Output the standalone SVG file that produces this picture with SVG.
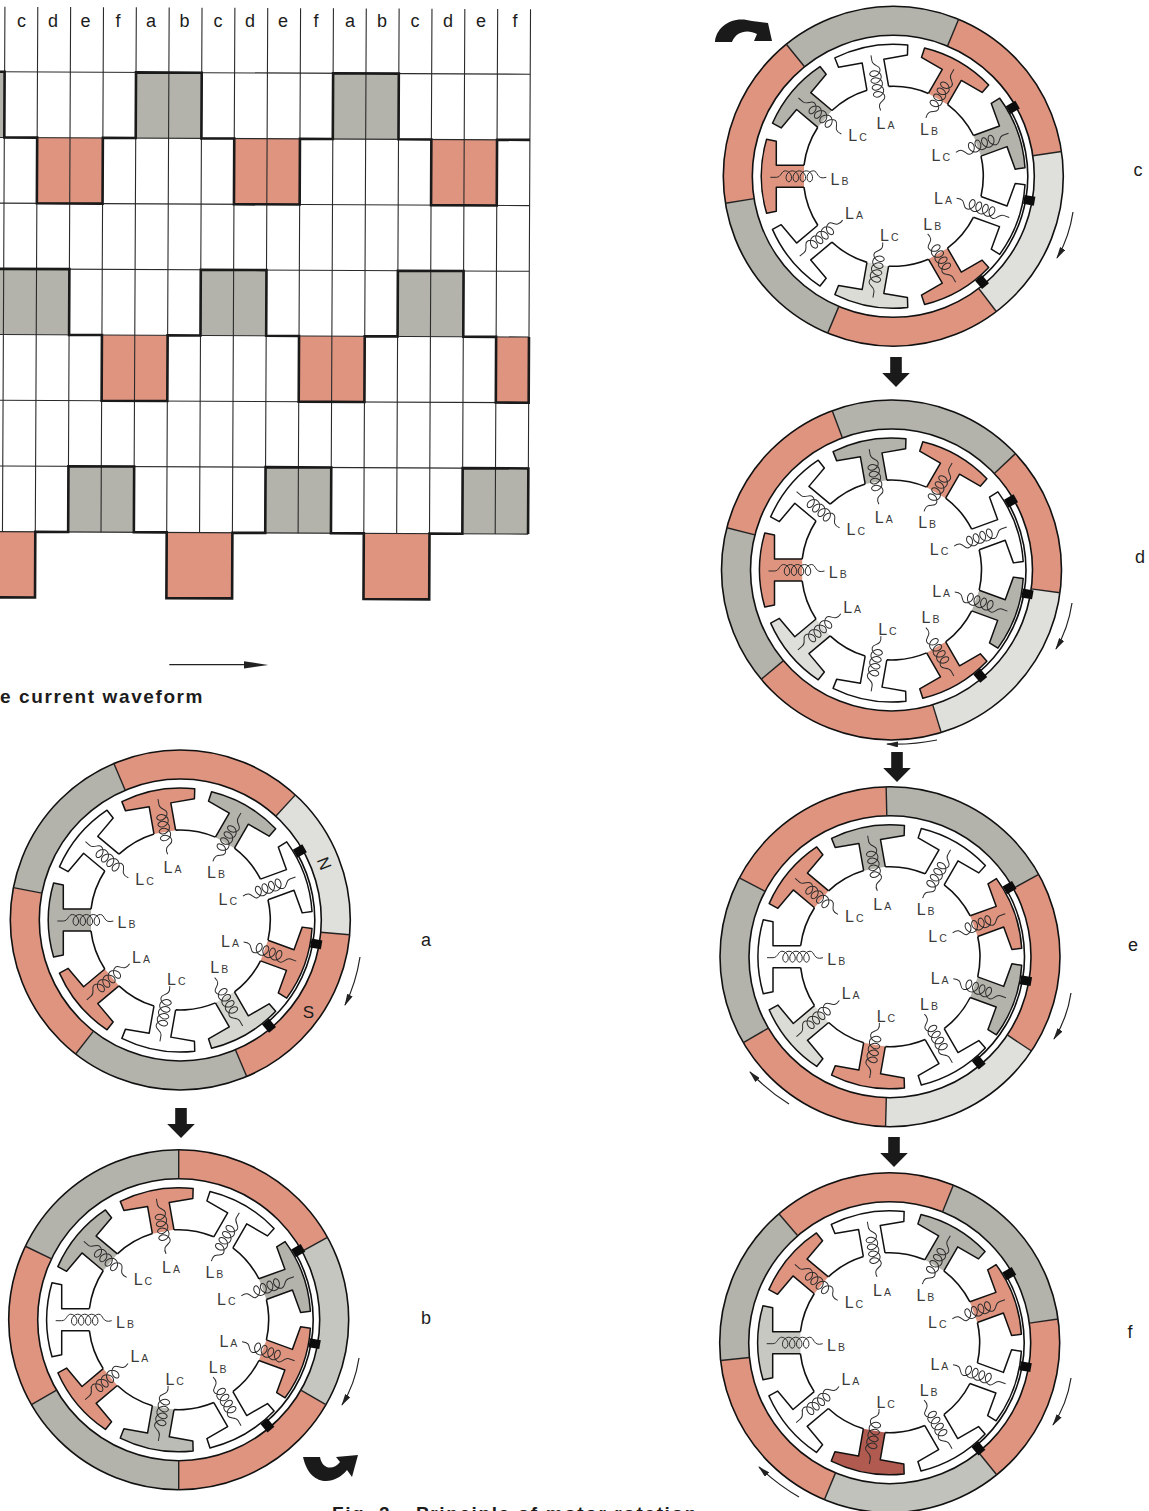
<svg xmlns="http://www.w3.org/2000/svg" xmlns:xlink="http://www.w3.org/1999/xlink" width="1149" height="1511" viewBox="0 0 1149 1511">
<style>
text{font-family:"Liberation Sans",Arial,sans-serif;fill:#1c1c1c}
.hd{font-size:18px;text-anchor:middle}
.cap{font-size:19px;font-weight:bold;letter-spacing:1.6px}
.L{font-size:16px;fill:#3a3a3a}
.L tspan{font-size:10.5px}
.thin{fill:none;stroke:#2a2a2a;stroke-width:1.1}
.tr{fill:none;stroke:#1a1a1a;stroke-width:2.6;stroke-linejoin:miter}
.g{fill:#b3b3ac}.r{fill:#df9480}
.seg{fill:none;stroke-width:29}
.ol{fill:none;stroke:#111;stroke-width:1.6}
.tooth{stroke:#111;stroke-width:1.5;stroke-linejoin:round}
.coil{fill:none;stroke:#2c2c2c;stroke-width:1}
.rot{fill:none;stroke:#222;stroke-width:1.2;marker-end:url(#ah)}
.fat{fill:#1a1a1a}
</style>
<defs>
<marker id="ah" viewBox="0 0 12 6" refX="11" refY="3" markerWidth="12" markerHeight="6" markerUnits="userSpaceOnUse" orient="auto"><path d="M0,0L12,3L0,6z" fill="#222"/></marker>
<path id="coil" class="coil" d="M-1,-123L-1,-117C-1,-112 5.5,-112 5.5,-108c0,2.89 -2.62,5.57 -5.5,6.15c-2.88,.58 -5.5,-.93 -5.5,-2.65c0,-1.72 2.62,-3.23 5.5,-2.65c2.88,.58 5.5,3.26 5.5,6.15c0,2.89 -2.62,5.57 -5.5,6.15c-2.88,.58 -5.5,-.93 -5.5,-2.65c0,-1.72 2.62,-3.23 5.5,-2.65c2.88,.58 5.5,3.26 5.5,6.15c0,2.89 -2.62,5.57 -5.5,6.15c-2.88,.58 -5.5,-.93 -5.5,-2.65c0,-1.72 2.62,-3.23 5.5,-2.65c2.88,.58 5.5,3.26 5.5,6.15c0,2.89 -2.62,5.57 -5.5,6.15c-2.88,.58 -5.5,-.93 -5.5,-2.65c0,-1.72 2.62,-3.23 5.5,-2.65c2.88,.58 5.5,3.26 5.5,6.15C5.5,-75 -4,-77 -1,-67"/>
<g id="tooth"><path class="tooth" d="M-11,-89.3V-117H-35L-37,-126.7A132,132 0 0 1 37,-126.7L35,-117H11V-89.3"/><use href="#coil" xlink:href="#coil"/></g>
<g id="stator">
<circle class="ol" r="90" pathLength="360" stroke-dasharray="26 14" transform="rotate(-93)"/>
<circle class="ol" r="134.5" pathLength="360" stroke-dasharray="80 280" transform="rotate(-30)"/>
<g fill="#0c0c0c"><rect x="-4.5" y="-143.5" width="9" height="11" transform="rotate(60)"/><rect x="-4.5" y="-143.5" width="9" height="11" transform="rotate(100)"/><rect x="-4.5" y="-143.5" width="9" height="11" transform="rotate(140)"/></g>
</g>
<path id="seam" d="M0,-141V-170" stroke="#222" stroke-width="1.4"/>
<path id="down" class="fat" d="M-5.8,-30H5.8V-14H13.8L0,0L-13.8,-14H-5.8z"/>
</defs>
<rect width="1149" height="1511" fill="#fff"/>

<g id="waveform">
<g transform="rotate(.27 270 300)">
<rect class="g" x="-5" y="73" width="8.55" height="65.7"/><rect class="g" x="134.95" y="73" width="65.7" height="65.7"/><rect class="g" x="332.05" y="73" width="65.7" height="65.7"/>
<rect class="r" x="36.4" y="138.7" width="65.7" height="65.7"/><rect class="r" x="233.5" y="138.7" width="65.7" height="65.7"/><rect class="r" x="430.6" y="138.7" width="65.7" height="65.7"/>
<rect class="g" x="-5" y="270.1" width="74.25" height="65.7"/><rect class="g" x="200.65" y="270.1" width="65.7" height="65.7"/><rect class="g" x="397.75" y="270.1" width="65.7" height="65.7"/>
<rect class="r" x="102.1" y="335.8" width="65.7" height="65.7"/><rect class="r" x="299.2" y="335.8" width="65.7" height="65.7"/><rect class="r" x="496.3" y="335.8" width="32.85" height="65.7"/>
<rect class="g" x="69.25" y="467.2" width="65.7" height="65.7"/><rect class="g" x="266.35" y="467.2" width="65.7" height="65.7"/><rect class="g" x="463.45" y="467.2" width="65.7" height="65.7"/>
<rect class="r" x="-5" y="532.9" width="41.4" height="65.7"/><rect class="r" x="167.8" y="532.9" width="65.7" height="65.7"/><rect class="r" x="364.9" y="532.9" width="65.7" height="65.7"/>
<path class="thin" d="M3.55,8V533M36.4,8V533M69.25,8V533M102.1,8V533M134.95,8V533M167.8,8V533M200.65,8V533M233.5,8V533M266.35,8V533M299.2,8V533M332.05,8V533M364.9,8V533M397.75,8V533M430.6,8V533M463.45,8V533M496.3,8V533M529.15,8V533"/>
<path class="thin" d="M-5,73H529M-5,138.7H529M-5,204.4H529M-5,270.1H529M-5,335.8H529M-5,401.5H529M-5,467.2H529M-5,532.9H529"/>
<path class="tr" d="M-5,73H3.55V138.7H36.4V204.4H102.1V138.7H134.95V73H200.65V138.7H233.5V204.4H299.2V138.7H332.05V73H397.75V138.7H430.6V204.4H496.3V138.7H529.15"/>
<path class="tr" d="M-5,270.1H69.25V335.8H102.1V401.5H167.8V335.8H200.65V270.1H266.35V335.8H299.2V401.5H364.9V335.8H397.75V270.1H463.45V335.8H496.3V401.5H529.15V335.8"/>
<path class="tr" d="M-5,598.6H36.4V532.9H69.25V467.2H134.95V532.9H167.8V598.6H233.5V532.9H266.35V467.2H332.05V532.9H364.9V598.6H430.6V532.9H463.45V467.2H529.15V532.9"/>
</g>
<g><text class="hd" x="21.5" y="27">c</text><text class="hd" x="53" y="27">d</text><text class="hd" x="85.5" y="27">e</text><text class="hd" x="118" y="27">f</text><text class="hd" x="151" y="27">a</text><text class="hd" x="184.5" y="27">b</text><text class="hd" x="218" y="27">c</text><text class="hd" x="250" y="27">d</text><text class="hd" x="283" y="27">e</text><text class="hd" x="316" y="27">f</text><text class="hd" x="350" y="27">a</text><text class="hd" x="382" y="27">b</text><text class="hd" x="415" y="27">c</text><text class="hd" x="448" y="27">d</text><text class="hd" x="481" y="27">e</text><text class="hd" x="515" y="27">f</text></g>
<text class="cap" x="0" y="703">e current waveform</text>
</g>

<g id="motor-a" transform="translate(180.3 920)">
<circle class="seg" r="155.5" pathLength="360" stroke="#df9480" stroke-dasharray="65.6 360" transform="rotate(-113)"/>
<circle class="seg" r="155.5" pathLength="360" stroke="#dfe0db" stroke-dasharray="52.4 360" transform="rotate(-47.4)"/>
<circle class="seg" r="155.5" pathLength="360" stroke="#df9480" stroke-dasharray="62 360" transform="rotate(5)"/>
<circle class="seg" r="155.5" pathLength="360" stroke="#b3b3ac" stroke-dasharray="61 360" transform="rotate(67)"/>
<circle class="seg" r="155.5" pathLength="360" stroke="#df9480" stroke-dasharray="63 360" transform="rotate(128)"/>
<circle class="seg" r="155.5" pathLength="360" stroke="#b3b3ac" stroke-dasharray="56 360" transform="rotate(191)"/>
<circle class="ol" r="170"/><circle class="ol" r="141"/>
<use href="#seam" xlink:href="#seam" transform="rotate(-23)"/><use href="#seam" xlink:href="#seam" transform="rotate(42.6)"/><use href="#seam" xlink:href="#seam" transform="rotate(95)"/><use href="#seam" xlink:href="#seam" transform="rotate(157)"/><use href="#seam" xlink:href="#seam" transform="rotate(218)"/><use href="#seam" xlink:href="#seam" transform="rotate(281)"/>
<use href="#stator" xlink:href="#stator"/>
<use href="#tooth" xlink:href="#tooth" fill="#df9480" transform="rotate(-10)"/>
<use href="#tooth" xlink:href="#tooth" fill="#b3b3ac" transform="rotate(30)"/>
<use href="#tooth" xlink:href="#tooth" fill="#fff" transform="rotate(70)"/>
<use href="#tooth" xlink:href="#tooth" fill="#df9480" transform="rotate(110)"/>
<use href="#tooth" xlink:href="#tooth" fill="#d6d6d1" transform="rotate(150)"/>
<use href="#tooth" xlink:href="#tooth" fill="#fff" transform="rotate(190)"/>
<use href="#tooth" xlink:href="#tooth" fill="#df9480" transform="rotate(230)"/>
<use href="#tooth" xlink:href="#tooth" fill="#b3b3ac" transform="rotate(270)"/>
<use href="#tooth" xlink:href="#tooth" fill="#fff" transform="rotate(310)"/>
<text class="L" x="-16.7" y="-47">L<tspan dx="2">A</tspan></text><text class="L" x="26.7" y="-41.7">L<tspan dx="2">B</tspan></text><text class="L" x="38.3" y="-15">L<tspan dx="2">C</tspan></text><text class="L" x="40.7" y="27.3">L<tspan dx="2">A</tspan></text><text class="L" x="30" y="53.3">L<tspan dx="2">B</tspan></text><text class="L" x="-13.3" y="65">L<tspan dx="2">C</tspan></text><text class="L" x="-48.3" y="42.7">L<tspan dx="2">A</tspan></text><text class="L" x="-62.7" y="8.3">L<tspan dx="2">B</tspan></text><text class="L" x="-45" y="-35">L<tspan dx="2">C</tspan></text>
<text x="145" y="-50" font-size="17" transform="rotate(68 145 -57)" text-anchor="middle">N</text>
<text x="128" y="98" font-size="17" text-anchor="middle">S</text>
<text class="hd" x="245.7" y="26">a</text>
</g>

<g id="motor-b" transform="translate(178.7 1319.7)">
<circle class="seg" r="155.5" pathLength="360" stroke="#b3b3ac" stroke-dasharray="64.4 360" transform="rotate(205.6)"/>
<circle class="seg" r="155.5" pathLength="360" stroke="#df9480" stroke-dasharray="61 360" transform="rotate(-90)"/>
<circle class="seg" r="155.5" pathLength="360" stroke="#c6c6c0" stroke-dasharray="59 360" transform="rotate(-29)"/>
<circle class="seg" r="155.5" pathLength="360" stroke="#df9480" stroke-dasharray="60 360" transform="rotate(30)"/>
<circle class="seg" r="155.5" pathLength="360" stroke="#b3b3ac" stroke-dasharray="60 360" transform="rotate(90)"/>
<circle class="seg" r="155.5" pathLength="360" stroke="#df9480" stroke-dasharray="55.6 360" transform="rotate(150)"/>
<circle class="ol" r="170"/><circle class="ol" r="141"/>
<use href="#seam" xlink:href="#seam"/><use href="#seam" xlink:href="#seam" transform="rotate(61)"/><use href="#seam" xlink:href="#seam" transform="rotate(120)"/><use href="#seam" xlink:href="#seam" transform="rotate(180)"/><use href="#seam" xlink:href="#seam" transform="rotate(240)"/><use href="#seam" xlink:href="#seam" transform="rotate(295.6)"/>
<use href="#stator" xlink:href="#stator"/>
<use href="#tooth" xlink:href="#tooth" fill="#df9480" transform="rotate(-10)"/>
<use href="#tooth" xlink:href="#tooth" fill="#fff" transform="rotate(30)"/>
<use href="#tooth" xlink:href="#tooth" fill="#b3b3ac" transform="rotate(70)"/>
<use href="#tooth" xlink:href="#tooth" fill="#df9480" transform="rotate(110)"/>
<use href="#tooth" xlink:href="#tooth" fill="#fff" transform="rotate(150)"/>
<use href="#tooth" xlink:href="#tooth" fill="#bcbcb6" transform="rotate(190)"/>
<use href="#tooth" xlink:href="#tooth" fill="#df9480" transform="rotate(230)"/>
<use href="#tooth" xlink:href="#tooth" fill="#fff" transform="rotate(270)"/>
<use href="#tooth" xlink:href="#tooth" fill="#b3b3ac" transform="rotate(310)"/>
<text class="L" x="-16.7" y="-47">L<tspan dx="2">A</tspan></text><text class="L" x="26.7" y="-41.7">L<tspan dx="2">B</tspan></text><text class="L" x="38.3" y="-15">L<tspan dx="2">C</tspan></text><text class="L" x="40.7" y="27.3">L<tspan dx="2">A</tspan></text><text class="L" x="30" y="53.3">L<tspan dx="2">B</tspan></text><text class="L" x="-13.3" y="65">L<tspan dx="2">C</tspan></text><text class="L" x="-48.3" y="42.7">L<tspan dx="2">A</tspan></text><text class="L" x="-62.7" y="8.3">L<tspan dx="2">B</tspan></text><text class="L" x="-45" y="-35">L<tspan dx="2">C</tspan></text>
<text class="hd" x="247.3" y="4.3">b</text>
</g>

<g id="motor-c" transform="translate(893.3 176.3)">
<circle class="seg" r="155.5" pathLength="360" stroke="#b3b3ac" stroke-dasharray="61.6 360" transform="rotate(-129)"/>
<circle class="seg" r="155.5" pathLength="360" stroke="#df9480" stroke-dasharray="59 360" transform="rotate(-67.4)"/>
<circle class="seg" r="155.5" pathLength="360" stroke="#dfe0db" stroke-dasharray="61 360" transform="rotate(-8.4)"/>
<circle class="seg" r="155.5" pathLength="360" stroke="#df9480" stroke-dasharray="60 360" transform="rotate(52.7)"/>
<circle class="seg" r="155.5" pathLength="360" stroke="#b3b3ac" stroke-dasharray="58.2 360" transform="rotate(112.7)"/>
<circle class="seg" r="155.5" pathLength="360" stroke="#df9480" stroke-dasharray="60.1 360" transform="rotate(170.9)"/>
<circle class="ol" r="170"/><circle class="ol" r="141"/>
<use href="#seam" xlink:href="#seam" transform="rotate(-39)"/><use href="#seam" xlink:href="#seam" transform="rotate(22.6)"/><use href="#seam" xlink:href="#seam" transform="rotate(81.6)"/><use href="#seam" xlink:href="#seam" transform="rotate(142.7)"/><use href="#seam" xlink:href="#seam" transform="rotate(202.7)"/><use href="#seam" xlink:href="#seam" transform="rotate(260.9)"/>
<use href="#stator" xlink:href="#stator"/>
<use href="#tooth" xlink:href="#tooth" fill="#fff" transform="rotate(-10)"/>
<use href="#tooth" xlink:href="#tooth" fill="#df9480" transform="rotate(30)"/>
<use href="#tooth" xlink:href="#tooth" fill="#b3b3ac" transform="rotate(70)"/>
<use href="#tooth" xlink:href="#tooth" fill="#fff" transform="rotate(110)"/>
<use href="#tooth" xlink:href="#tooth" fill="#df9480" transform="rotate(150)"/>
<use href="#tooth" xlink:href="#tooth" fill="#dcdcd7" transform="rotate(190)"/>
<use href="#tooth" xlink:href="#tooth" fill="#fff" transform="rotate(230)"/>
<use href="#tooth" xlink:href="#tooth" fill="#df9480" transform="rotate(270)"/>
<use href="#tooth" xlink:href="#tooth" fill="#b3b3ac" transform="rotate(310)"/>
<text class="L" x="-16.7" y="-47">L<tspan dx="2">A</tspan></text><text class="L" x="26.7" y="-41.7">L<tspan dx="2">B</tspan></text><text class="L" x="38.3" y="-15">L<tspan dx="2">C</tspan></text><text class="L" x="40.7" y="27.3">L<tspan dx="2">A</tspan></text><text class="L" x="30" y="53.3">L<tspan dx="2">B</tspan></text><text class="L" x="-13.3" y="65">L<tspan dx="2">C</tspan></text><text class="L" x="-48.3" y="42.7">L<tspan dx="2">A</tspan></text><text class="L" x="-62.7" y="8.3">L<tspan dx="2">B</tspan></text><text class="L" x="-45" y="-35">L<tspan dx="2">C</tspan></text>
<text class="hd" x="244.7" y="-0.3">c</text>
</g>

<g id="motor-d" transform="translate(891.5 570)">
<circle class="seg" r="155.5" pathLength="360" stroke="#b3b3ac" stroke-dasharray="67.2 360" transform="rotate(-110.4)"/>
<circle class="seg" r="155.5" pathLength="360" stroke="#df9480" stroke-dasharray="51 360" transform="rotate(-43.2)"/>
<circle class="seg" r="155.5" pathLength="360" stroke="#dfe0db" stroke-dasharray="65.3 360" transform="rotate(7.7)"/>
<circle class="seg" r="155.5" pathLength="360" stroke="#df9480" stroke-dasharray="67 360" transform="rotate(73)"/>
<circle class="seg" r="155.5" pathLength="360" stroke="#b3b3ac" stroke-dasharray="54.4 360" transform="rotate(140)"/>
<circle class="seg" r="155.5" pathLength="360" stroke="#df9480" stroke-dasharray="55.2 360" transform="rotate(194.4)"/>
<circle class="ol" r="170"/><circle class="ol" r="141"/>
<use href="#seam" xlink:href="#seam" transform="rotate(-20.4)"/><use href="#seam" xlink:href="#seam" transform="rotate(46.8)"/><use href="#seam" xlink:href="#seam" transform="rotate(97.7)"/><use href="#seam" xlink:href="#seam" transform="rotate(163)"/><use href="#seam" xlink:href="#seam" transform="rotate(230)"/><use href="#seam" xlink:href="#seam" transform="rotate(284.4)"/>
<use href="#stator" xlink:href="#stator"/>
<use href="#tooth" xlink:href="#tooth" fill="#b3b3ac" transform="rotate(-10)"/>
<use href="#tooth" xlink:href="#tooth" fill="#df9480" transform="rotate(30)"/>
<use href="#tooth" xlink:href="#tooth" fill="#fff" transform="rotate(70)"/>
<use href="#tooth" xlink:href="#tooth" fill="#b3b3ac" transform="rotate(110)"/>
<use href="#tooth" xlink:href="#tooth" fill="#df9480" transform="rotate(150)"/>
<use href="#tooth" xlink:href="#tooth" fill="#fff" transform="rotate(190)"/>
<use href="#tooth" xlink:href="#tooth" fill="#dedfda" transform="rotate(230)"/>
<use href="#tooth" xlink:href="#tooth" fill="#df9480" transform="rotate(270)"/>
<use href="#tooth" xlink:href="#tooth" fill="#fff" transform="rotate(310)"/>
<text class="L" x="-16.7" y="-47">L<tspan dx="2">A</tspan></text><text class="L" x="26.7" y="-41.7">L<tspan dx="2">B</tspan></text><text class="L" x="38.3" y="-15">L<tspan dx="2">C</tspan></text><text class="L" x="40.7" y="27.3">L<tspan dx="2">A</tspan></text><text class="L" x="30" y="53.3">L<tspan dx="2">B</tspan></text><text class="L" x="-13.3" y="65">L<tspan dx="2">C</tspan></text><text class="L" x="-48.3" y="42.7">L<tspan dx="2">A</tspan></text><text class="L" x="-62.7" y="8.3">L<tspan dx="2">B</tspan></text><text class="L" x="-45" y="-35">L<tspan dx="2">C</tspan></text>
<text class="hd" x="248.5" y="-7">d</text>
</g>

<g id="motor-e" transform="translate(890 956.7)">
<circle class="seg" r="155.5" pathLength="360" stroke="#b3b3ac" stroke-dasharray="62.3 360" transform="rotate(-91.3)"/>
<circle class="seg" r="155.5" pathLength="360" stroke="#df9480" stroke-dasharray="62.7 360" transform="rotate(-29)"/>
<circle class="seg" r="155.5" pathLength="360" stroke="#dfe0db" stroke-dasharray="57.8 360" transform="rotate(33.7)"/>
<circle class="seg" r="155.5" pathLength="360" stroke="#df9480" stroke-dasharray="58.1 360" transform="rotate(91.5)"/>
<circle class="seg" r="155.5" pathLength="360" stroke="#b3b3ac" stroke-dasharray="58 360" transform="rotate(149.6)"/>
<circle class="seg" r="155.5" pathLength="360" stroke="#df9480" stroke-dasharray="61.1 360" transform="rotate(207.6)"/>
<circle class="ol" r="170"/><circle class="ol" r="141"/>
<use href="#seam" xlink:href="#seam" transform="rotate(-1.3)"/><use href="#seam" xlink:href="#seam" transform="rotate(61)"/><use href="#seam" xlink:href="#seam" transform="rotate(123.7)"/><use href="#seam" xlink:href="#seam" transform="rotate(181.5)"/><use href="#seam" xlink:href="#seam" transform="rotate(239.6)"/><use href="#seam" xlink:href="#seam" transform="rotate(297.6)"/>
<use href="#stator" xlink:href="#stator"/>
<use href="#tooth" xlink:href="#tooth" fill="#b3b3ac" transform="rotate(-10)"/>
<use href="#tooth" xlink:href="#tooth" fill="#fff" transform="rotate(30)"/>
<use href="#tooth" xlink:href="#tooth" fill="#df9480" transform="rotate(70)"/>
<use href="#tooth" xlink:href="#tooth" fill="#b3b3ac" transform="rotate(110)"/>
<use href="#tooth" xlink:href="#tooth" fill="#fff" transform="rotate(150)"/>
<use href="#tooth" xlink:href="#tooth" fill="#df9480" transform="rotate(190)"/>
<use href="#tooth" xlink:href="#tooth" fill="#dcdcd7" transform="rotate(230)"/>
<use href="#tooth" xlink:href="#tooth" fill="#fff" transform="rotate(270)"/>
<use href="#tooth" xlink:href="#tooth" fill="#df9480" transform="rotate(310)"/>
<text class="L" x="-16.7" y="-47">L<tspan dx="2">A</tspan></text><text class="L" x="26.7" y="-41.7">L<tspan dx="2">B</tspan></text><text class="L" x="38.3" y="-15">L<tspan dx="2">C</tspan></text><text class="L" x="40.7" y="27.3">L<tspan dx="2">A</tspan></text><text class="L" x="30" y="53.3">L<tspan dx="2">B</tspan></text><text class="L" x="-13.3" y="65">L<tspan dx="2">C</tspan></text><text class="L" x="-48.3" y="42.7">L<tspan dx="2">A</tspan></text><text class="L" x="-62.7" y="8.3">L<tspan dx="2">B</tspan></text><text class="L" x="-45" y="-35">L<tspan dx="2">C</tspan></text>
<text class="hd" x="243" y="-5.7">e</text>
</g>

<g id="motor-f" transform="translate(889.7 1342.7)">
<circle class="seg" r="155.5" pathLength="360" stroke="#df9480" stroke-dasharray="62.7 360" transform="rotate(-130.7)"/>
<circle class="seg" r="155.5" pathLength="360" stroke="#b3b3ac" stroke-dasharray="60 360" transform="rotate(-68)"/>
<circle class="seg" r="155.5" pathLength="360" stroke="#df9480" stroke-dasharray="59 360" transform="rotate(-8)"/>
<circle class="seg" r="155.5" pathLength="360" stroke="#c2c2bc" stroke-dasharray="61.6 360" transform="rotate(51)"/>
<circle class="seg" r="155.5" pathLength="360" stroke="#df9480" stroke-dasharray="61.4 360" transform="rotate(112.6)"/>
<circle class="seg" r="155.5" pathLength="360" stroke="#b3b3ac" stroke-dasharray="55.3 360" transform="rotate(174)"/>
<circle class="ol" r="170"/><circle class="ol" r="141"/>
<use href="#seam" xlink:href="#seam" transform="rotate(-40.7)"/><use href="#seam" xlink:href="#seam" transform="rotate(22)"/><use href="#seam" xlink:href="#seam" transform="rotate(82)"/><use href="#seam" xlink:href="#seam" transform="rotate(141)"/><use href="#seam" xlink:href="#seam" transform="rotate(202.6)"/><use href="#seam" xlink:href="#seam" transform="rotate(264)"/>
<use href="#stator" xlink:href="#stator"/>
<use href="#tooth" xlink:href="#tooth" fill="#fff" transform="rotate(-10)"/>
<use href="#tooth" xlink:href="#tooth" fill="#b3b3ac" transform="rotate(30)"/>
<use href="#tooth" xlink:href="#tooth" fill="#df9480" transform="rotate(70)"/>
<use href="#tooth" xlink:href="#tooth" fill="#fff" transform="rotate(110)"/>
<use href="#tooth" xlink:href="#tooth" fill="#fff" transform="rotate(150)"/>
<use href="#tooth" xlink:href="#tooth" fill="#b05a50" transform="rotate(190)"/>
<use href="#tooth" xlink:href="#tooth" fill="#fff" transform="rotate(230)"/>
<use href="#tooth" xlink:href="#tooth" fill="#c8c8c2" transform="rotate(270)"/>
<use href="#tooth" xlink:href="#tooth" fill="#df9480" transform="rotate(310)"/>
<text class="L" x="-16.7" y="-47">L<tspan dx="2">A</tspan></text><text class="L" x="26.7" y="-41.7">L<tspan dx="2">B</tspan></text><text class="L" x="38.3" y="-15">L<tspan dx="2">C</tspan></text><text class="L" x="40.7" y="27.3">L<tspan dx="2">A</tspan></text><text class="L" x="30" y="53.3">L<tspan dx="2">B</tspan></text><text class="L" x="-13.3" y="65">L<tspan dx="2">C</tspan></text><text class="L" x="-48.3" y="42.7">L<tspan dx="2">A</tspan></text><text class="L" x="-62.7" y="8.3">L<tspan dx="2">B</tspan></text><text class="L" x="-45" y="-35">L<tspan dx="2">C</tspan></text>
<text class="hd" x="240.3" y="-4.7">f</text>
</g>

<g id="connectors">
<use href="#down" xlink:href="#down" transform="translate(181 1138)"/>
<use href="#down" xlink:href="#down" transform="translate(896 387)"/>
<use href="#down" xlink:href="#down" transform="translate(897 782)"/>
<use href="#down" xlink:href="#down" transform="translate(894 1167)"/>
<path class="fat" d="M715,42C716,27 732,15 752,21L768,23L772,41L754,41L757,34C748,29 736,31 732,42Z"/>
<path class="fat" d="M303,1457L320,1457C322,1469 333,1471 340,1462L336,1457L358,1455L352,1477L347,1470C335,1485 310,1488 303,1457Z"/>
<path class="rot" d="M360,957Q356,983 345,1005"/>
<path class="rot" d="M359,1358Q355,1384 342,1405"/>
<path class="rot" d="M1073,212Q1069,238 1057,258"/>
<path class="rot" d="M1072,603Q1068,629 1056,649"/>
<path class="rot" d="M937,740Q912,745 887,744"/>
<path class="rot" d="M1071,993Q1067,1019 1054,1039"/>
<path class="rot" d="M789,1104Q768,1091 750,1072"/>
<path class="rot" d="M1071,1378Q1067,1404 1053,1425"/>
<path class="rot" d="M799,1497Q778,1485 759,1467"/>
<path d="M169.3,664.7H244" stroke="#222" stroke-width="1.2"/><path d="M244,661.2L268.3,664.9L244,668.5z" fill="#222"/>
</g>
<text class="cap" x="332" y="1520">Fig. 2<tspan dx="18"> Principle of motor rotation</tspan></text>
</svg>
